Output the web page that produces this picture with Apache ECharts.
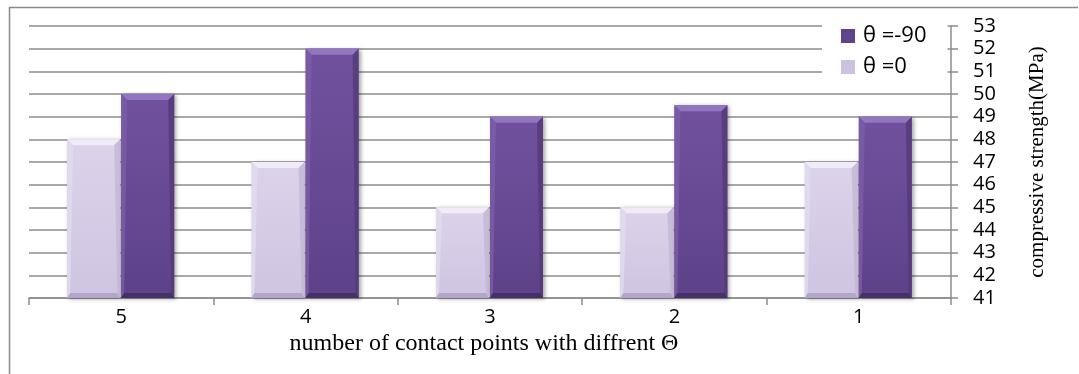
<!DOCTYPE html>
<html>
<head>
<meta charset="utf-8">
<script src="https://cdn.jsdelivr.net/npm/echarts@6/dist/echarts.min.js"></script>
<style>
  html, body { margin: 0; padding: 0; background: #fff; }
  #chart { width: 1079px; height: 374px; }
</style>
</head>
<body>
<div id="chart"></div>
<script>
// Categories: number of contact points
const categories = ['5', '4', '3', '2', '1'];
// Compressive strength (MPa) for each orientation
const theta0 = [48, 47, 45, 45, 47];
const thetaNeg90 = [50, 52, 49, 49.5, 49];
// Right-hand axis range
const yMin = 41;
const yMax = 53;
const yStep = 1;

const seriesNames = ['θ =0', 'θ =-90'];

const palettes = {
  light: {
    faceTop: '#dcd3ea', faceBottom: '#cfc4e1',
    topBevel: '#f0ebf7', leftBevel: '#e2dbee', rightBevel: '#c3b7d6', bottomBevel: '#b3a6c8',
    legend: '#cdc2df'
  },
  dark: {
    faceTop: '#71519f', faceBottom: '#5d4288',
    topBevel: '#9277c0', leftBevel: '#7a5ca8', rightBevel: '#523a78', bottomBevel: '#45316a',
    legend: '#5f4489'
  }
};

// Bevelled column drawn through the category/value scales
function bevelBar(side, pal) {
  return function (params, api) {
    const cat = api.value(0);
    const val = api.value(1);
    const topPt = api.coord([cat, val]);
    const basePt = api.coord([cat, yMin]);
    const band = api.size([1, 0])[0];
    const w = Math.round(band * 0.288);
    const x0 = side < 0 ? topPt[0] - w - 1 : topPt[0];
    const y0 = topPt[1];
    const y1 = basePt[1];
    const x1 = x0 + w;
    const bt = 6, bs = 3, bb = 5;
    return {
      type: 'group',
      children: [
        {
          type: 'rect',
          shape: { x: x0, y: y0, width: w, height: y1 - y0 },
          style: {
            fill: new echarts.graphic.LinearGradient(0, 0, 0, 1, [
              { offset: 0, color: pal.faceTop }, { offset: 1, color: pal.faceBottom }
            ]),
            shadowBlur: 4, shadowOffsetX: 2, shadowOffsetY: 1, shadowColor: 'rgba(0,0,0,0.35)'
          }
        },
        {
          type: 'polygon',
          shape: { points: [[x0, y0], [x1, y0], [x1 - bs - 3, y0 + bt], [x0 + bs + 3, y0 + bt]] },
          style: { fill: pal.topBevel }
        },
        {
          type: 'polygon',
          shape: { points: [[x0, y0], [x0 + bs + 3, y0 + bt], [x0 + bs, y1 - bb], [x0, y1]] },
          style: { fill: pal.leftBevel, opacity: 0.8 }
        },
        {
          type: 'polygon',
          shape: { points: [[x1, y0], [x1 - bs - 3, y0 + bt], [x1 - bs, y1 - bb], [x1, y1]] },
          style: { fill: pal.rightBevel, opacity: 0.8 }
        },
        {
          type: 'polygon',
          shape: { points: [[x0, y1], [x0 + bs, y1 - bb], [x1 - bs, y1 - bb], [x1, y1]] },
          style: { fill: pal.bottomBevel }
        }
      ]
    };
  };
}

const chart = echarts.init(document.getElementById('chart'), null, { renderer: 'canvas' });

chart.setOption({
  animation: false,
  backgroundColor: '#ffffff',
  graphic: [
    {
      type: 'polyline',
      shape: { points: [[9.5, 380], [9.5, 7.5], [1078, 7.5]] },
      style: { stroke: '#8a8a8a', lineWidth: 1.5, fill: null },
      z: 0
    }
  ],
  grid: { left: 29, right: 1079 - 951, top: 26, bottom: 374 - 298, containLabel: false },
  legend: {
    data: ['θ =-90', 'θ =0'],
    orient: 'vertical',
    left: 822,
    top: 21,
    padding: [4, 21, 6, 19],
    backgroundColor: '#ffffff',
    itemWidth: 14,
    itemHeight: 14,
    itemGap: 9,
    icon: 'rect',
    textStyle: { fontFamily: 'Open Sans', fontSize: 22, lineHeight: 22, color: '#000', padding: [0, 0, 0, 3] }
  },
  xAxis: {
    type: 'category',
    data: categories,
    boundaryGap: true,
    name: 'number of contact points with diffrent Θ',
    nameLocation: 'middle',
    nameGap: 26,
    nameTextStyle: { fontFamily: 'Liberation Serif', fontSize: 24, color: '#000', padding: [0, 12, 0, 0] },
    axisLine: { lineStyle: { color: '#8c8c8c', width: 1.5 } },
    axisTick: { show: true, length: 7, alignWithLabel: false, lineStyle: { color: '#8c8c8c', width: 1.5 } },
    axisLabel: { fontFamily: 'Open Sans', fontSize: 20, color: '#000', margin: 9 }
  },
  yAxis: {
    type: 'value',
    position: 'right',
    min: yMin,
    max: yMax,
    interval: yStep,
    name: 'compressive strength(MPa)',
    nameLocation: 'middle',
    nameRotate: 90,
    nameGap: 76,
    nameTextStyle: { fontFamily: 'Liberation Serif', fontSize: 21, color: '#000' },
    axisLine: { show: true, lineStyle: { color: '#8c8c8c', width: 1.5 } },
    axisTick: { show: true, length: 7, lineStyle: { color: '#8c8c8c', width: 1.5 } },
    axisLabel: { fontFamily: 'Open Sans', fontSize: 20, color: '#000', margin: 22 },
    splitLine: { lineStyle: { color: '#8c8c8c', width: 1.5 } }
  },
  series: [
    {
      name: seriesNames[0],
      type: 'custom',
      renderItem: bevelBar(-1, palettes.light),
      itemStyle: { color: palettes.light.legend },
      encode: { x: 0, y: 1 },
      data: theta0.map((v, i) => [i, v]),
      z: 3
    },
    {
      name: seriesNames[1],
      type: 'custom',
      renderItem: bevelBar(1, palettes.dark),
      itemStyle: { color: palettes.dark.legend },
      encode: { x: 0, y: 1 },
      data: thetaNeg90.map((v, i) => [i, v]),
      z: 3
    }
  ]
});
</script>
</body>
</html>
